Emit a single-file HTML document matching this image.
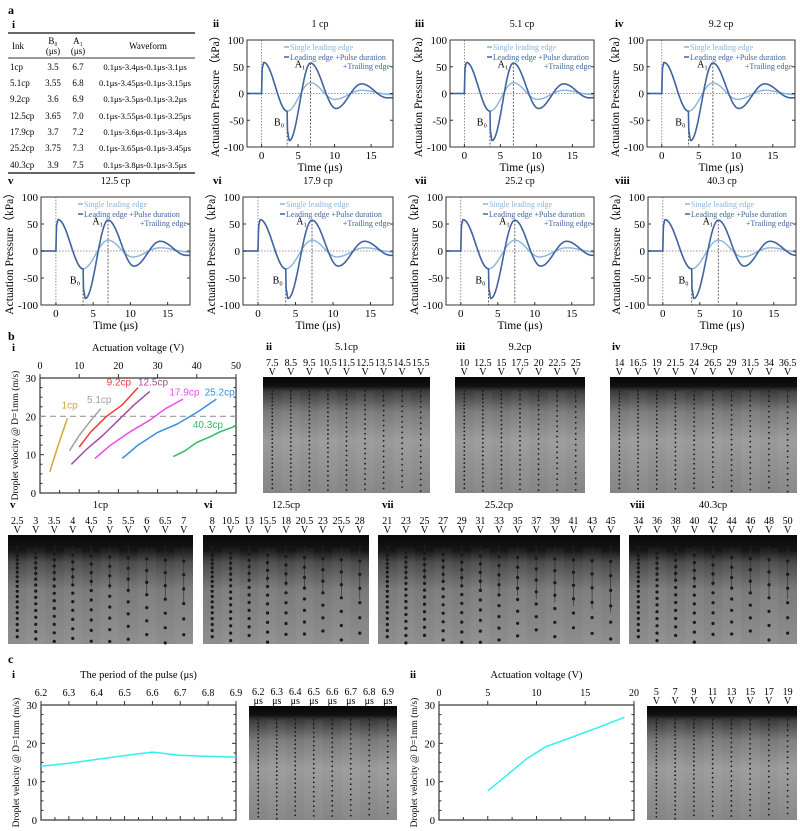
<!DOCTYPE html>
<html><head><meta charset="utf-8">
<style>
html,body{margin:0;padding:0;background:#fff;}
svg{display:block;font-family:"Liberation Serif",serif;}
</style></head>
<body>
<svg id="s" width="800" height="831" viewBox="0 0 800 831" xmlns="http://www.w3.org/2000/svg">
<defs>
<linearGradient id="g1" x1="0" y1="0" x2="0" y2="1">
<stop offset="0" stop-color="#050505"/><stop offset="0.08" stop-color="#111"/><stop offset="0.12" stop-color="#3a3a3a"/><stop offset="0.3" stop-color="#7a7a7a"/><stop offset="0.55" stop-color="#9a9a9a"/><stop offset="1" stop-color="#858585"/>
</linearGradient>
<linearGradient id="g2" x1="0" y1="0" x2="0" y2="1">
<stop offset="0" stop-color="#080808"/><stop offset="0.14" stop-color="#151515"/><stop offset="0.25" stop-color="#4a4a4a"/><stop offset="0.5" stop-color="#7a7a7a"/><stop offset="1" stop-color="#8e8e8e"/>
</linearGradient>
</defs>
<g id="root"></g>
</svg>
<script>
var o='';
function T(x,y,s,sz,anc,extra){o+='<text x="'+x+'" y="'+y+'" font-size="'+(sz||10)+'" text-anchor="'+(anc||'start')+'" '+(extra||'')+'>'+s+'</text>';}
function L(x1,y1,x2,y2,c,w,d){o+='<line x1="'+x1+'" y1="'+y1+'" x2="'+x2+'" y2="'+y2+'" stroke="'+(c||'#333')+'" stroke-width="'+(w||1)+'"'+(d?' stroke-dasharray="'+d+'"':'')+'/>';}
function P(pts,c,w,d){o+='<polyline fill="none" points="'+pts.map(function(p){return p[0].toFixed(1)+','+p[1].toFixed(1)}).join(' ')+'" stroke="'+c+'" stroke-width="'+(w||1.5)+'"'+(d?' stroke-dasharray="'+d+'"':'')+' stroke-linejoin="round"/>';}
function interp(k,t){for(var i=0;i<k.length-1;i++){if(t>=k[i][0]&&t<=k[i+1][0]){var f=(t-k[i][0])/(k[i+1][0]-k[i][0]);return k[i][1]+(k[i+1][1]-k[i][1])*(1-Math.cos(Math.PI*f))/2;}}return k[k.length-1][1];}
T(8,14,'a',12,'start','font-weight="bold"');
T(12,28,'i',11,'start','font-weight="bold"');
L(8,33,195,33,'#333',1.5);L(8,58,195,58,'#333',1);L(8,173,195,173,'#333',1.5);
T(12,49,'Ink',9);T(53,44,'B₀',9,'middle');T(53,54,'(μs)',9,'middle');T(78,44,'A₁',9,'middle');T(78,54,'(μs)',9,'middle');T(148,49,'Waveform',9,'middle');
var rows=[['1cp','3.5','6.7','0.1μs-3.4μs-0.1μs-3.1μs'],['5.1cp','3.55','6.8','0.1μs-3.45μs-0.1μs-3.15μs'],['9.2cp','3.6','6.9','0.1μs-3.5μs-0.1μs-3.2μs'],['12.5cp','3.65','7.0','0.1μs-3.55μs-0.1μs-3.25μs'],['17.9cp','3.7','7.2','0.1μs-3.6μs-0.1μs-3.4μs'],['25.2cp','3.75','7.3','0.1μs-3.65μs-0.1μs-3.45μs'],['40.3cp','3.9','7.5','0.1μs-3.8μs-0.1μs-3.5μs']];
var ry=[70,86,102,119,135,151,168];
rows.forEach(function(r,i){T(10,ry[i],r[0],9);T(53,ry[i],r[1],9,'middle');T(78,ry[i],r[2],9,'middle');T(145,ry[i],r[3],8.6,'middle');});
function wave(fx,fy,fw,fh,lab,labx,title,B0,A1){
  var X=function(t){return fx+(t+2)/20*fw;},Y=function(v){return fy+(100-v)/200*fh;};
  T(labx,fy-13,lab,11,'start','font-weight="bold"');
  T(fx+fw/2,fy-13,title,10,'middle');
  L(X(0),fy,X(0),fy+fh,'#777',0.8,'1.5,1.5');
  L(fx,Y(0),fx+fw,Y(0),'#777',0.8,'1.5,1.5');
  L(X(B0),Y(-33),X(B0),fy+fh,'#555',0.9,'2,1.5');
  L(X(A1),Y(57),X(A1),fy+fh,'#555',0.9,'2,1.5');
  var kd=[[-2,0],[0,0],[0.08,48],[0.3,58],[B0,-33],[B0+0.06,-72],[B0+0.3,-88],[A1,57],[A1+3.5,-28],[A1+7,18],[A1+10.5,-8],[25,0]];
  var kl=[[-2,0],[0,0],[0.08,48],[0.3,58],[B0,-33],[A1,20],[A1+3.3,-11],[A1+7,6],[A1+11,-2],[25,0]];
  var pd=[],pl=[];for(var t=-2;t<=18.001;t+=0.05){pd.push([X(t),Y(interp(kd,t))]);pl.push([X(t),Y(interp(kl,t))]);}
  P(pl,'#8ab4da',1.4);P(pd,'#41649e',1.6);
  o+='<rect x="'+fx+'" y="'+fy+'" width="'+fw+'" height="'+fh+'" fill="none" stroke="#333" stroke-width="1"/>';
  [100,50,0,-50,-100].forEach(function(v){L(fx,Y(v),fx+3,Y(v));L(fx+fw,Y(v),fx+fw-3,Y(v));T(fx-3,Y(v)+4,v,11,'end');});
  [0,5,10,15].forEach(function(v){L(X(v),fy+fh,X(v),fy+fh-3);T(X(v),fy+fh+12,v,11,'middle');});
  T(fx+fw/2,fy+fh+24,'Time (μs)',11.5,'middle');
  T(0,0,'Actuation Pressure（kPa）',11.5,'middle','transform="translate('+(fx-28)+','+(fy+fh/2)+') rotate(-90)"');
  T(X(B0)-3,Y(-60),'B₀',10,'end');
  T(X(A1)-5,Y(49),'A₁',10,'end');
  L(fx+37,fy+7,fx+42,fy+7,'#8ab4da',1.5);T(fx+43,fy+10,'Single leading edge',8,'start','fill="#8ab4da"');
  L(fx+37,fy+17,fx+42,fy+17,'#41649e',1.5);T(fx+43,fy+20,'Leading edge +Pulse duration',8,'start','fill="#41649e"');
  T(fx+fw-3,fy+29,'+Trailing edge',8,'end','fill="#41649e"');
}
wave(247,40,146,107,'ii',213,'1 cp',3.5,6.7);
wave(450,40,144,107,'iii',415,'5.1 cp',3.55,6.8);
wave(647,40,148,107,'iv',615,'9.2 cp',3.6,6.9);
wave(41,197,149,108,'v',8,'12.5 cp',3.65,7.0);
wave(243,197,150,108,'vi',213,'17.9 cp',3.7,7.2);
wave(446,197,148,108,'vii',415,'25.2 cp',3.75,7.3);
wave(648,197,148,108,'viii',615,'40.3 cp',3.9,7.5);
T(8,340,'b',12,'start','font-weight="bold"');
function vplot(fx,fy,fw,fh,xmin,xmax,xt,ttl,lab,labx){
  var X=function(t){return fx+(t-xmin)/(xmax-xmin)*fw;},Y=function(v){return fy+(30-v)/30*fh;};
  T(labx,fy-27,lab,11,'start','font-weight="bold"');
  T(fx+fw/2,fy-27,ttl,10.5,'middle');
  o+='<rect x="'+fx+'" y="'+fy+'" width="'+fw+'" height="'+fh+'" fill="none" stroke="#333" stroke-width="1.2"/>';
  xt.forEach(function(v){L(X(v),fy,X(v),fy-4);T(X(v),fy-9,v,10,'middle');});
  for(var v=0;v<=30;v+=2.5){var l=(v%10==0)?4:2.5;L(fx,Y(v),fx+l,Y(v));L(fx+fw,Y(v),fx+fw-l,Y(v));}
  for(var i=0;i<xt.length-1;i++){var m=(xt[i]+xt[i+1])/2;L(X(m),fy+fh,X(m),fy+fh-3);L(X(xt[i]),fy+fh,X(xt[i]),fy+fh-4);}
  [0,10,20,30].forEach(function(v){T(fx-4,Y(v)+4,v,10.5,'end');});
  T(0,0,'Droplet velocity @ D=1mm (m/s)',9.5,'middle','transform="translate('+(fx-22)+','+(fy+fh/2)+') rotate(-90)"');
  return [X,Y];
}
var a=vplot(40,378,196,115,0,50,[0,10,20,30,40,50],'Actuation voltage (V)','i',12);
var X=a[0],Y=a[1];
L(40,Y(20),236,Y(20),'#999',1.2,'6,4');
function curve(pts,c){P(pts.map(function(p){return [X(p[0]),Y(p[1])]}),c,1.5);}
curve([[2.5,5.5],[4.5,12],[7,19.5]],'#d4a63a');
curve([[7.5,11],[10,15],[13,19],[15.5,22]],'#a0a0a0');
curve([[10,12],[13,16],[17,20],[21,23],[25,27.5]],'#ef3b3b');
curve([[8,7.5],[12,11.5],[16,15],[20,19],[24,23],[28,26.5]],'#a0509a');
curve([[14,9],[18,12.5],[23,16],[28,19],[32,22],[36.5,24.5]],'#e650e6');
curve([[21,9],[25,12.5],[30,15.8],[35,18],[40,21],[45,24.5]],'#3a8ee0');
curve([[34,9.5],[37,11],[40,13.2],[43,14.5],[46,16],[50,17.5]],'#34b864');
T(X(5.5),Y(22),'1cp',10,'start','fill="#d4a63a" font-family="Liberation Sans"');
T(X(12),Y(23.5),'5.1cp',10,'start','fill="#a0a0a0" font-family="Liberation Sans"');
T(X(17),Y(28),'9.2cp',10,'start','fill="#ef3b3b" font-family="Liberation Sans"');
T(X(25),Y(28),'12.5cp',10,'start','fill="#a0509a" font-family="Liberation Sans"');
T(X(33),Y(25.5),'17.9cp',10,'start','fill="#e650e6" font-family="Liberation Sans"');
T(X(42),Y(25.5),'25.2cp',10,'start','fill="#3a8ee0" font-family="Liberation Sans"');
T(X(39),Y(17),'40.3cp',10,'start','fill="#34b864" font-family="Liberation Sans"');
function img(x,y,w,h,labels,unit,lab,labx,ttl,grad,big){
  o+='<rect x="'+x+'" y="'+y+'" width="'+w+'" height="'+h+'" fill="url(#'+grad+')"/>';
  var n=labels.length,sp=w/n;
  for(var i=0;i<n;i++){
    var cx=x+sp/2+i*sp;
    if(i%2==1)o+='<rect x="'+(x+i*sp)+'" y="'+(y+h*0.12)+'" width="'+sp+'" height="'+(h*0.88)+'" fill="#fff" opacity="0.04"/>';
    T(cx,y-11,labels[i],10,'middle');T(cx,y-2,unit,10,'middle');
    var gap=big?(3.5+i*10/n):(3.5+i*2/n),r=big?1.6:0.9;
    L(cx,y+h*0.1,cx,y+h*(big?0.35+i*0.03:0.2),'#333',0.7);
    for(var yy=y+h*0.12;yy<y+h-1;yy+=gap){o+='<circle cx="'+cx+'" cy="'+yy.toFixed(1)+'" r="'+r+'" fill="#1a1a1a"/>';gap+=big?0.15*(1+i*0.3):0.03;}
  }
  if(lab)T(labx,y-27,lab,11,'start','font-weight="bold"');
  if(ttl)T(x+w/2,y-27,ttl,10.5,'middle');
}
img(263,377,167,116,['7.5','8.5','9.5','10.5','11.5','12.5','13.5','14.5','15.5'],'V','ii',266,'5.1cp','g1',false);
img(455,377,130,116,['10','12.5','15','17.5','20','22.5','25'],'V','iii',456,'9.2cp','g1',false);
img(610,377,187,116,['14','16.5','19','21.5','24','26.5','29','31.5','34','36.5'],'V','iv',612,'17.9cp','g1',false);
img(8,535,185,109,['2.5','3','3.5','4','4.5','5','5.5','6','6.5','7'],'V','v',10,'1cp','g2',true);
img(203,535,166,109,['8','10.5','13','15.5','18','20.5','23','25.5','28'],'V','vi',204,'12.5cp','g2',true);
img(378,535,242,109,['21','23','25','27','29','31','33','35','37','39','41','43','45'],'V','vii',382,'25.2cp','g2',true);
img(629,535,168,109,['34','36','38','40','42','44','46','48','50'],'V','viii',630,'40.3cp','g2',true);
T(8,663,'c',12,'start','font-weight="bold"');
var c1=vplot(41,705,195,115,6.2,6.9,[6.2,6.3,6.4,6.5,6.6,6.7,6.8,6.9],'The period of the pulse  (μs)','i',12);
P([[6.2,14],[6.3,14.8],[6.4,15.8],[6.5,16.8],[6.6,17.7],[6.7,16.9],[6.8,16.6],[6.9,16.4]].map(function(p){return [c1[0](p[0]),c1[1](p[1])]}),'#30f0f0',1.5);
img(249,706,148,114,['6.2','6.3','6.4','6.5','6.6','6.7','6.8','6.9'],'μs',null,0,null,'g1',false);
var c2=vplot(439,705,195,115,0,20,[0,5,10,15,20],'Actuation voltage (V)','ii',410);
P([[5,7.6],[7,11.8],[9,16],[11,19.2],[13,21],[15,22.9],[17,24.8],[19,26.8]].map(function(p){return [c2[0](p[0]),c2[1](p[1])]}),'#30f0f0',1.5);
img(647,706,150,114,['5','7','9','11','13','15','17','19'],'V',null,0,null,'g1',false);
document.getElementById('root').innerHTML=o;
</script>
</body></html>
